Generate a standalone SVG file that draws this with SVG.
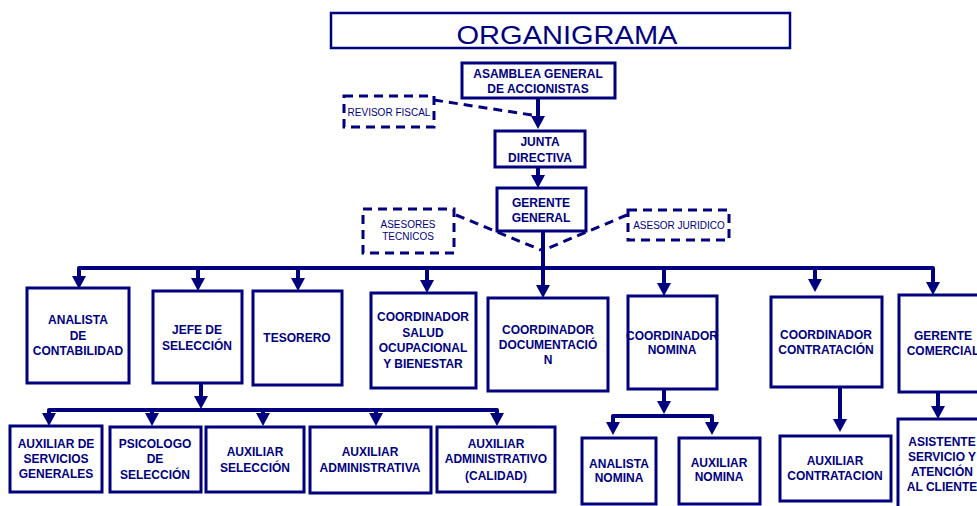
<svg xmlns="http://www.w3.org/2000/svg" width="977" height="506" viewBox="0 0 977 506">
<defs>
<marker id="ah" markerUnits="userSpaceOnUse" markerWidth="15" markerHeight="15" refX="0" refY="7" orient="auto" overflow="visible">
<path d="M0,0 L13,7 L0,14 z" fill="#00007f"/>
</marker>
<style>
.box{fill:#fff;stroke:#00007f;stroke-width:3}
.dbox{fill:#fff;stroke:#00007f;stroke-width:3;stroke-dasharray:9 6}
.t{font-family:"Liberation Sans",Arial,sans-serif;font-weight:bold;font-size:12px;fill:#00007f;text-anchor:middle}
.s{font-family:"Liberation Sans",Arial,sans-serif;font-size:10px;fill:#00007f;text-anchor:middle}
.c{fill:none;stroke:#00007f;stroke-width:4;stroke-linejoin:round}
.a{fill:none;stroke:#00007f;stroke-width:4;marker-end:url(#ah)}
.d{fill:none;stroke:#00007f;stroke-width:3;stroke-dasharray:9 6}
</style>
</defs>
<rect width="977" height="506" fill="#fff"/>
<g id="title">
<rect x="331" y="13" width="459" height="35" fill="#fff" stroke="#00007f" stroke-width="2.5"/>
<text x="567" y="44" font-family="'Liberation Sans',Arial,sans-serif" font-size="26" fill="#00007f" text-anchor="middle" textLength="221" lengthAdjust="spacingAndGlyphs">ORGANIGRAMA</text>
</g>
<g id="connectors">
<line class="d" x1="434" y1="100" x2="532" y2="115"/>
<line class="d" x1="456" y1="215" x2="541" y2="250"/>
<line class="d" x1="627" y1="215" x2="546" y2="249"/>
<line class="a" x1="538" y1="98" x2="538" y2="116"/>
<line class="a" x1="538" y1="167" x2="538" y2="175"/>
<line class="a" x1="543" y1="231" x2="543" y2="285"/>
<path class="c" d="M79,276 L79,268 L933,268 L933,282"/>
<line class="a" x1="79" y1="268" x2="79" y2="276"/>
<line class="a" x1="198" y1="268" x2="198" y2="278"/>
<line class="a" x1="298" y1="268" x2="298" y2="278"/>
<line class="a" x1="427" y1="268" x2="427" y2="280"/>
<line class="a" x1="664" y1="268" x2="664" y2="283"/>
<line class="a" x1="815" y1="268" x2="815" y2="279"/>
<line class="a" x1="933" y1="268" x2="933" y2="282"/>
<line class="a" x1="201" y1="383" x2="201" y2="396"/>
<path class="c" d="M49,413 L49,410 L497,410 L497,413"/>
<line class="a" x1="49" y1="410" x2="49" y2="413"/>
<line class="a" x1="152" y1="410" x2="152" y2="413"/>
<line class="a" x1="263" y1="410" x2="263" y2="413"/>
<line class="a" x1="376" y1="410" x2="376" y2="413"/>
<line class="a" x1="497" y1="410" x2="497" y2="413"/>
<line class="a" x1="664" y1="389" x2="664" y2="401"/>
<path class="c" d="M613,422 L613,416 L712,416 L712,422"/>
<line class="a" x1="613" y1="416" x2="613" y2="422"/>
<line class="a" x1="712" y1="416" x2="712" y2="422"/>
<line class="a" x1="840" y1="387" x2="840" y2="419"/>
<line class="a" x1="938" y1="392" x2="938" y2="406"/>
</g>
<g id="asamblea">
<rect class="box" x="462" y="63" width="153" height="35"/>
<text class="t" x="538" y="78">ASAMBLEA GENERAL</text>
<text class="t" x="538" y="93">DE ACCIONISTAS</text>
</g>
<g id="revisor">
<rect class="dbox" x="344" y="96" width="90" height="31"/>
<text class="s" x="389" y="116">REVISOR FISCAL</text>
</g>
<g id="junta">
<rect class="box" x="495" y="131" width="90" height="36"/>
<text class="t" x="540" y="146">JUNTA</text>
<text class="t" x="540" y="162">DIRECTIVA</text>
</g>
<g id="gerente">
<rect class="box" x="497" y="188" width="89" height="43"/>
<text class="t" x="541" y="207" font-size="13">GERENTE</text>
<text class="t" x="541" y="222" font-size="13">GENERAL</text>
</g>
<g id="asesores">
<rect class="dbox" x="363" y="209" width="91" height="44"/>
<text class="s" x="408" y="228">ASESORES</text>
<text class="s" x="408" y="240">TECNICOS</text>
</g>
<g id="juridico">
<rect class="dbox" x="628" y="210" width="101" height="30"/>
<text class="s" x="679" y="229">ASESOR JURIDICO</text>
</g>
<g id="analista-contabilidad">
<rect class="box" x="27" y="288" width="102" height="95"/>
<text class="t" x="78" y="324">ANALISTA</text>
<text class="t" x="78" y="340">DE</text>
<text class="t" x="78" y="355">CONTABILIDAD</text>
</g>
<g id="jefe-seleccion">
<rect class="box" x="153" y="291" width="89" height="92"/>
<text class="t" x="197" y="334">JEFE DE</text>
<text class="t" x="197" y="350">SELECCIÓN</text>
</g>
<g id="tesorero">
<rect class="box" x="253" y="291" width="89" height="94"/>
<text class="t" x="297" y="342">TESORERO</text>
</g>
<g id="coord-salud">
<rect class="box" x="371" y="293" width="105" height="95"/>
<text class="t" x="423" y="321">COORDINADOR</text>
<text class="t" x="423" y="337">SALUD</text>
<text class="t" x="423" y="352">OCUPACIONAL</text>
<text class="t" x="423" y="368">Y BIENESTAR</text>
</g>
<g id="coord-documentacion">
<rect class="box" x="488" y="298" width="120" height="93"/>
<text class="t" x="548" y="334">COORDINADOR</text>
<text class="t" x="548" y="349">DOCUMENTACIÓ</text>
<text class="t" x="548" y="364">N</text>
</g>
<g id="coord-nomina">
<rect class="box" x="628" y="296" width="89" height="93"/>
<text class="t" x="672" y="340" font-size="10.5">COORDINADOR</text>
<text class="t" x="672" y="354" font-size="10.5">NOMINA</text>
</g>
<g id="coord-contratacion">
<rect class="box" x="771" y="297" width="111" height="90"/>
<text class="t" x="826" y="339">COORDINADOR</text>
<text class="t" x="826" y="354">CONTRATACIÓN</text>
</g>
<g id="gerente-comercial">
<rect class="box" x="899" y="295" width="95" height="97"/>
<text class="t" x="943" y="340">GERENTE</text>
<text class="t" x="943" y="355">COMERCIAL</text>
</g>
<g id="aux-servicios">
<rect class="box" x="10" y="426" width="92" height="66"/>
<text class="t" x="56" y="448">AUXILIAR DE</text>
<text class="t" x="56" y="463">SERVICIOS</text>
<text class="t" x="56" y="478">GENERALES</text>
</g>
<g id="psicologo">
<rect class="box" x="110" y="427" width="91" height="65"/>
<text class="t" x="155" y="448">PSICOLOGO</text>
<text class="t" x="155" y="463">DE</text>
<text class="t" x="155" y="479">SELECCIÓN</text>
</g>
<g id="aux-seleccion">
<rect class="box" x="206" y="427" width="98" height="65"/>
<text class="t" x="255" y="456">AUXILIAR</text>
<text class="t" x="255" y="472">SELECCIÓN</text>
</g>
<g id="aux-administrativa">
<rect class="box" x="310" y="427" width="121" height="66"/>
<text class="t" x="370" y="456">AUXILIAR</text>
<text class="t" x="370" y="472">ADMINISTRATIVA</text>
</g>
<g id="aux-calidad">
<rect class="box" x="437" y="427" width="118" height="65"/>
<text class="t" x="496" y="448">AUXILIAR</text>
<text class="t" x="496" y="463">ADMINISTRATIVO</text>
<text class="t" x="496" y="480">(CALIDAD)</text>
</g>
<g id="analista-nomina">
<rect class="box" x="582" y="438" width="74" height="66"/>
<text class="t" x="619" y="468">ANALISTA</text>
<text class="t" x="619" y="482">NOMINA</text>
</g>
<g id="aux-nomina">
<rect class="box" x="679" y="438" width="81" height="66"/>
<text class="t" x="719" y="467">AUXILIAR</text>
<text class="t" x="719" y="481">NOMINA</text>
</g>
<g id="aux-contratacion">
<rect class="box" x="780" y="436" width="111" height="65"/>
<text class="t" x="835" y="465">AUXILIAR</text>
<text class="t" x="835" y="480">CONTRATACION</text>
</g>
<g id="asistente">
<rect class="box" x="898" y="419" width="96" height="100"/>
<text class="t" x="942" y="446">ASISTENTE</text>
<text class="t" x="942" y="461">SERVICIO Y</text>
<text class="t" x="942" y="476">ATENCIÓN</text>
<text class="t" x="942" y="491">AL CLIENTE</text>
</g>
</svg>
